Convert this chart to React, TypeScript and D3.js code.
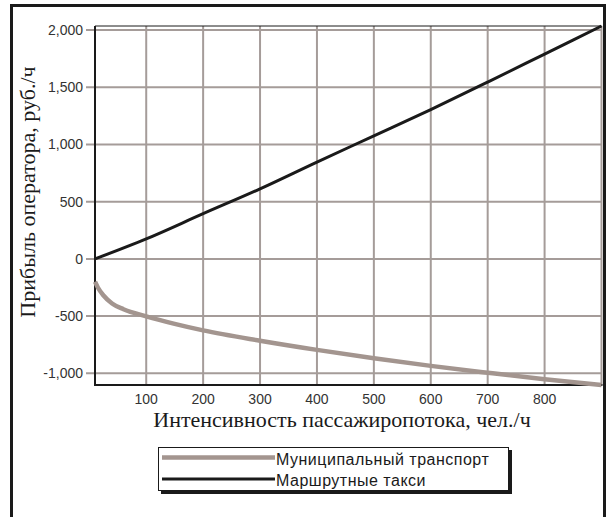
import React from "react";
import * as d3 from "d3";

const flow = [10, 15, 25, 40, 60, 100, 150, 200, 300, 400, 500, 600, 700, 800, 900];
const municipal = [-200, -250, -320, -390, -440, -502, -568, -625, -715, -795, -868, -935, -995, -1052, -1102];
const flowTaxi = [10, 100, 200, 300, 400, 500, 600, 700, 800, 900];
const taxi = [0, 175, 395, 612, 846, 1075, 1305, 1545, 1790, 2035];
const xTicks = [100, 200, 300, 400, 500, 600, 700, 800, 900];
const xTickLabels = ["100", "200", "300", "400", "500", "600", "700", "800", ""];
const yTicks = [-1000, -500, 0, 500, 1000, 1500, 2000];
const seriesNames = ["Муниципальный транспорт", "Маршрутные такси"];
const xTitle = "Интенсивность пассажиропотока, чел./ч";
const yTitle = "Прибыль оператора, руб./ч";

const GRID = "#a59c99";
const GRAY = "#a3958f";
const BLACK = "#1a1a1a";

export default function App() {
  const L = 95, R = 601.5, T = 26, B = 385;
  const x = d3.scaleLinear().domain([10, 900]).range([L, R]);
  const y = d3.scaleLinear().domain([-1102, 2035]).range([B, T]);
  const fmt = (v: number) => d3.format(",")(v).replace("\u2212", "-");
  const line = d3.line<[number, number]>().x(d => x(d[0])).y(d => y(d[1])).curve(d3.curveMonotoneX);
  const munPts: [number, number][] = flow.map((f, i) => [f, municipal[i]]);
  const taxiPts: [number, number][] = flowTaxi.map((f, i) => [f, taxi[i]]);
  const sans = "Liberation Sans, Arial, sans-serif";
  const serif = "Liberation Serif, DejaVu Serif, serif";
  return (
    <svg width={606} height={517} style={{ position: "absolute", left: 0, top: 0, background: "#fff" }}>
      <rect x={0} y={0} width={606} height={517} fill="#fff" />
      {/* outer frame */}
      <path d="M11.5,530 V5.5 H604.5 V530" fill="none" stroke={BLACK} strokeWidth={3} />
      {/* grid */}
      {yTicks.map(t => (
        <line key={"gy" + t} x1={L - 9} x2={R} y1={y(t)} y2={y(t)} stroke={GRID} strokeWidth={2} />
      ))}
      {xTicks.map(t => (
        <line key={"gx" + t} x1={x(t)} x2={x(t)} y1={T} y2={B} stroke={GRID} strokeWidth={2} />
      ))}
      {/* axes */}
      <line x1={L} x2={R} y1={T} y2={T} stroke={BLACK} strokeWidth={1} />
      <line x1={L} x2={L} y1={T} y2={B + 1} stroke={BLACK} strokeWidth={2} />
      <line x1={L - 1} x2={R + 1} y1={B} y2={B} stroke={BLACK} strokeWidth={2} />
      {/* series */}
      <path d={line(munPts) || ""} fill="none" stroke={GRAY} strokeWidth={4.5} />
      <path d={line(taxiPts) || ""} fill="none" stroke={BLACK} strokeWidth={3} />
      {/* tick labels */}
      {yTicks.map(t => (
        <text key={"ly" + t} x={83} y={y(t)} dy="0.36em" textAnchor="end" fontFamily={sans} fontSize={14} fill="#333">
          {fmt(t)}
        </text>
      ))}
      {xTicks.map((t, i) => (
        <text key={"lx" + t} x={x(t)} y={404} textAnchor="middle" fontFamily={sans} fontSize={14} fill="#333">
          {xTickLabels[i]}
        </text>
      ))}
      {/* titles */}
      <text x={342} y={427} textAnchor="middle" fontFamily={serif} fontSize={22} fill={BLACK}>
        {xTitle}
      </text>
      <text transform="translate(35,192) rotate(-90)" textAnchor="middle" fontFamily={serif} fontSize={22} fill={BLACK}>
        {yTitle}
      </text>
      {/* legend */}
      <rect x={161} y={450} width={351} height={44} fill={BLACK} />
      <rect x={158.5} y={447.5} width={350} height={43} fill="#fff" stroke={BLACK} strokeWidth={1} />
      <line x1={162} x2={275} y1={457.5} y2={457.5} stroke={GRAY} strokeWidth={4.5} />
      <line x1={162} x2={275} y1={479} y2={479} stroke={BLACK} strokeWidth={3} />
      <text x={276} y={464.5} fontFamily={sans} fontSize={16} letterSpacing={0.5} fill={BLACK}>{seriesNames[0]}</text>
      <text x={276} y={486} fontFamily={sans} fontSize={16} letterSpacing={0.5} fill={BLACK}>{seriesNames[1]}</text>
    </svg>
  );
}
